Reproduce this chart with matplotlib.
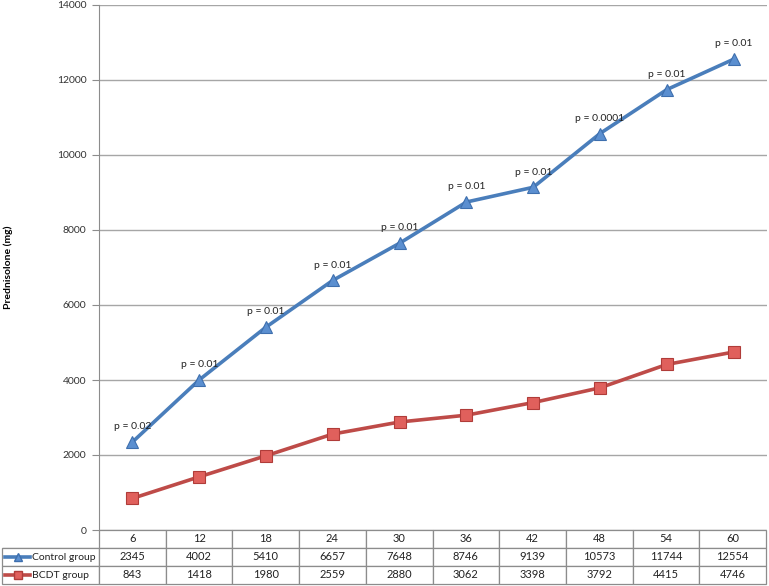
import matplotlib
matplotlib.use('Agg')
import matplotlib.pyplot as plt

plt.rcParams['font.family'] = ['Lato', 'DejaVu Sans']

months = [6, 12, 18, 24, 30, 36, 42, 48, 54, 60]
control = [2345, 4002, 5410, 6657, 7648, 8746, 9139, 10573, 11744, 12554]
bcdt = [843, 1418, 1980, 2559, 2880, 3062, 3398, 3792, 4415, 4746]
p_values = ['0.02', '0.01', '0.01', '0.01', '0.01', '0.01', '0.01', '0.0001', '0.01', '0.01']
series_names = ['Control group', 'BCDT group']

blue = '#4A7EBB'
red = '#BE4B48'
grid_color = '#A6A6A6'

fig = plt.figure(figsize=(7.69, 5.86), dpi=100)
ax = fig.add_axes([99 / 769, 1 - 530 / 586, 668 / 769, 525 / 586])

xs = list(range(len(months)))
ax.plot(xs, control, color=blue, linewidth=2.6, marker='^', markersize=9,
        markerfacecolor='#5B8FD0', markeredgecolor='#3E6FAE', markeredgewidth=0.8, zorder=4)
ax.plot(xs, bcdt, color=red, linewidth=2.6, marker='s', markersize=8.5,
        markerfacecolor='#E0605C', markeredgecolor='#B03C39', markeredgewidth=0.8, zorder=4)

for x, y, p in zip(xs, control, p_values):
    ax.annotate('p = ' + p, (x, y), xytext=(0, 11), textcoords='offset points',
                ha='center', va='center', fontsize=7.5, color='#222222', zorder=5)

ax.set_xlim(-0.5, len(months) - 0.5)
ax.set_ylim(0, 14000)
ax.set_yticks(range(0, 14001, 2000))
ax.set_xticks([])
ax.yaxis.grid(True, color=grid_color, linewidth=1.0)
ax.set_axisbelow(True)
for s in ['top', 'right', 'bottom']:
    ax.spines[s].set_visible(False)
ax.spines['left'].set_color('#8C8C8C')
ax.tick_params(axis='y', direction='out', length=5, color='#8C8C8C', labelsize=7.5,
               labelcolor='#333333', pad=4)
ax.set_ylabel('Prednisolone (mg)', fontsize=7.5, fontweight='bold')
ax.yaxis.set_label_coords(-0.128, 0.5)

# data table under the plot
cell_text = [[''] + [str(m) for m in months],
             [series_names[0]] + [str(v) for v in control],
             [series_names[1]] + [str(v) for v in bcdt]]
label_w = 97
col_w = 66.7
total_w = label_w + col_w * len(months)
tbl_h = 54
tbl = ax.table(cellText=cell_text, cellLoc='center',
               bbox=[-label_w / 668, -tbl_h / 525, total_w / 668, tbl_h / 525])
tbl.auto_set_font_size(False)
tbl.set_fontsize(8)
for (r, c), cell in tbl.get_celld().items():
    cell.set_edgecolor('#8C8C8C')
    cell.set_linewidth(0.9)
    cell.set_width(label_w if c == 0 else col_w)
    cell.get_text().set_color('#222222')
    if c == 0:
        cell.get_text().set_ha('left')
        cell.get_text().set_fontsize(7.5)
        cell._loc = 'left'
        cell.PAD = 0.31
    if r == 0 and c == 0:
        cell.visible_edges = 'B'

# legend keys in the row label cells
row_h = tbl_h / 3 / 525
for i, (col, mk, fc, ec) in enumerate([(blue, '^', '#5B8FD0', '#3E6FAE'),
                                       (red, 's', '#E0605C', '#B03C39')]):
    yk = -tbl_h / 525 + row_h * (1.5 - i)
    x0 = -94 / 668
    x1 = -69 / 668
    ax.plot([x0, x1], [yk, yk], transform=ax.transAxes, color=col, linewidth=2.6,
            clip_on=False, zorder=6)
    ax.plot([(x0 + x1) / 2], [yk], transform=ax.transAxes, marker=mk, markersize=6,
            markerfacecolor=fc, markeredgecolor=ec, clip_on=False, zorder=7)

fig.savefig('out.png', dpi=100)
